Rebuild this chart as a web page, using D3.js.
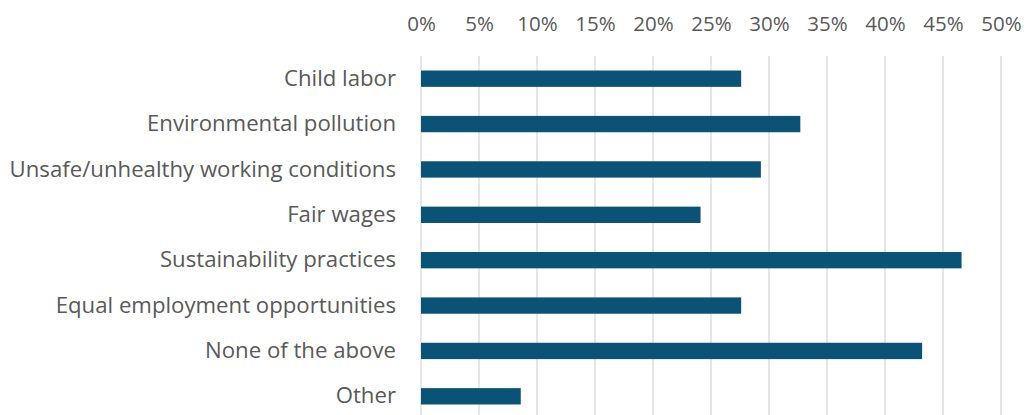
<!DOCTYPE html>
<html>
<head>
<meta charset="utf-8">
<script src="https://cdn.jsdelivr.net/npm/d3@7"></script>
<style>
  html, body { margin: 0; padding: 0; background: #ffffff; }
  svg { display: block; }
</style>
</head>
<body>
<svg id="chart" width="1026" height="415"></svg>
<script>
// Share of respondents per topic
const categories = [
  "Child labor",
  "Environmental pollution",
  "Unsafe/unhealthy working conditions",
  "Fair wages",
  "Sustainability practices",
  "Equal employment opportunities",
  "None of the above",
  "Other"
];
const values = [27.6, 32.7, 29.3, 24.1, 46.6, 27.6, 43.2, 8.6];
const tickValues = [0, 5, 10, 15, 20, 25, 30, 35, 40, 45, 50];

const svg = d3.select("#chart");
const margin = { left: 421, right: 25, top: 56, bottom: -4 };
const W = 1026, H = 415;

const x = d3.scaleLinear().domain([0, 50]).range([margin.left, W - margin.right]);
const y = d3.scaleBand()
  .domain(categories)
  .range([margin.top, H - margin.bottom])
  .paddingInner(0.64)
  .paddingOuter(0.32);

const font = "'Open Sans', 'Noto Sans', sans-serif";

// vertical gridlines
svg.append("g")
  .selectAll("line")
  .data(tickValues)
  .join("line")
  .attr("x1", d => x(d)).attr("x2", d => x(d))
  .attr("y1", margin.top).attr("y2", H)
  .attr("stroke", "#d9d9d9")
  .attr("stroke-width", 1.3);

// top axis labels
const xAxis = d3.axisTop(x)
  .tickValues(tickValues)
  .tickFormat(d => d + "%")
  .tickSize(0)
  .tickPadding(0);
const gx = svg.append("g")
  .attr("transform", "translate(0,31)")
  .call(xAxis);
gx.select(".domain").remove();
gx.selectAll("text")
  .attr("fill", "#595959")
  .style("font-family", font)
  .style("font-size", "20.5px");

// category labels
const yAxis = d3.axisLeft(y).tickSize(0).tickPadding(25);
const gy = svg.append("g")
  .attr("transform", `translate(${margin.left},0)`)
  .call(yAxis);
gy.select(".domain").remove();
gy.selectAll("text")
  .attr("fill", "#595959")
  .style("font-family", font)
  .style("font-size", "22.2px");

// bars
svg.append("g")
  .selectAll("rect")
  .data(categories)
  .join("rect")
  .attr("x", x(0))
  .attr("y", d => y(d))
  .attr("width", (d, i) => x(values[i]) - x(0))
  .attr("height", y.bandwidth())
  .attr("fill", "#0b5277");
</script>
</body>
</html>
